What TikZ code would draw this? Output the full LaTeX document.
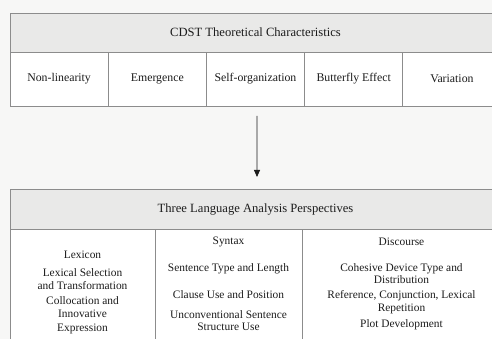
\documentclass[tikz,border=0pt]{standalone}
\usepackage{fontspec}
\setmainfont{Liberation Serif}
\usepackage{tikz}
\usetikzlibrary{arrows.meta,positioning}
\definecolor{PageBg}{HTML}{F7F7F6}
\definecolor{HeadFill}{HTML}{E9E9E8}
\definecolor{Frame}{HTML}{8C8C8C}
\definecolor{Ink}{HTML}{1C1C1C}
\tikzset{
  headbox/.style={draw=Frame,fill=HeadFill,line width=.9pt,outer sep=0pt,inner sep=0pt,text=Ink,font=\fontsize{12.6}{15}\selectfont},
  cellbox/.style={draw=Frame,fill=white,line width=.9pt,outer sep=0pt,inner sep=0pt,text=Ink,font=\fontsize{11.8}{14}\selectfont},
  itemtext/.style={align=center,inner sep=0pt,text=Ink,font=\fontsize{11.4}{13.6}\selectfont},
  flow/.style={-{Triangle[length=7pt,width=6pt]},draw=Ink,line width=.8pt}
}

\begin{document}
\begin{tikzpicture}[x=1pt,y=1pt]
  \fill[PageBg] (0,0) rectangle (492,-339);
  \useasboundingbox (0,0) rectangle (492,-339);
  \clip (0,0) rectangle (492,-339);
  % top block
  \node[headbox,minimum width=491pt,minimum height=39pt,anchor=north west] (cdst) at (10,-13) {CDST Theoretical Characteristics};
  \node[cellbox,minimum width=98.2pt,minimum height=54pt,anchor=north west] (nonlin) at (cdst.south west) {Non-linearity};
  \node[cellbox,minimum width=98.2pt,minimum height=54pt,right=0pt of nonlin] (emerg) {Emergence};
  \node[cellbox,minimum width=98.2pt,minimum height=54pt,right=0pt of emerg] (selforg) {Self-organization};
  \node[cellbox,minimum width=98.2pt,minimum height=54pt,right=0pt of selforg] (butterfly) {Butterfly Effect};
  \node[cellbox,minimum width=98.2pt,minimum height=54pt,right=0pt of butterfly] (variation) {Variation};
  % bottom block
  \node[headbox,minimum width=491pt,minimum height=40pt,anchor=north west] (persp) at (10,-189.5) {Three Language Analysis Perspectives};
  \node[cellbox,minimum width=145pt,minimum height=130pt,anchor=north west] (lexcol) at (persp.south west) {};
  \node[cellbox,minimum width=147pt,minimum height=130pt,right=0pt of lexcol] (syncol) {};
  \node[cellbox,minimum width=199pt,minimum height=130pt,right=0pt of syncol] (discol) {};
  \draw[flow] ([xshift=1.5pt,yshift=-10pt]selforg.south) -- ([xshift=1.5pt,yshift=12.5pt]persp.north);
  % lexicon
  \node[itemtext] (lexhead) at (82.5,-255) {Lexicon};
  \node[itemtext] (lexsel) at (82.5,-279) {Lexical Selection\\and Transformation};
  \node[itemtext] (lexcoll) at (82.5,-315) {Collocation and\\Innovative\\Expression};
  % syntax
  \node[itemtext] (synhead) at (228.5,-242) {Syntax};
  \node[itemtext] (syntype) at (228.5,-269) {Sentence Type and Length};
  \node[itemtext] (synclause) at (228.5,-295) {Clause Use and Position};
  \node[itemtext,font=\fontsize{11.4}{11.8}\selectfont] (synunconv) at (228.5,-320.5) {Unconventional Sentence\\Structure Use};
  % discourse
  \node[itemtext] (dishead) at (401.5,-242) {Discourse};
  \node[itemtext,font=\fontsize{11.4}{11.8}\selectfont] (discohes) at (401.5,-273.5) {Cohesive Device Type and\\Distribution};
  \node[itemtext,font=\fontsize{11.4}{12.4}\selectfont] (disref) at (401.5,-302) {Reference, Conjunction, Lexical\\Repetition};
  \node[itemtext] (displot) at (401.5,-325) {Plot Development};
\end{tikzpicture}
\end{document}
